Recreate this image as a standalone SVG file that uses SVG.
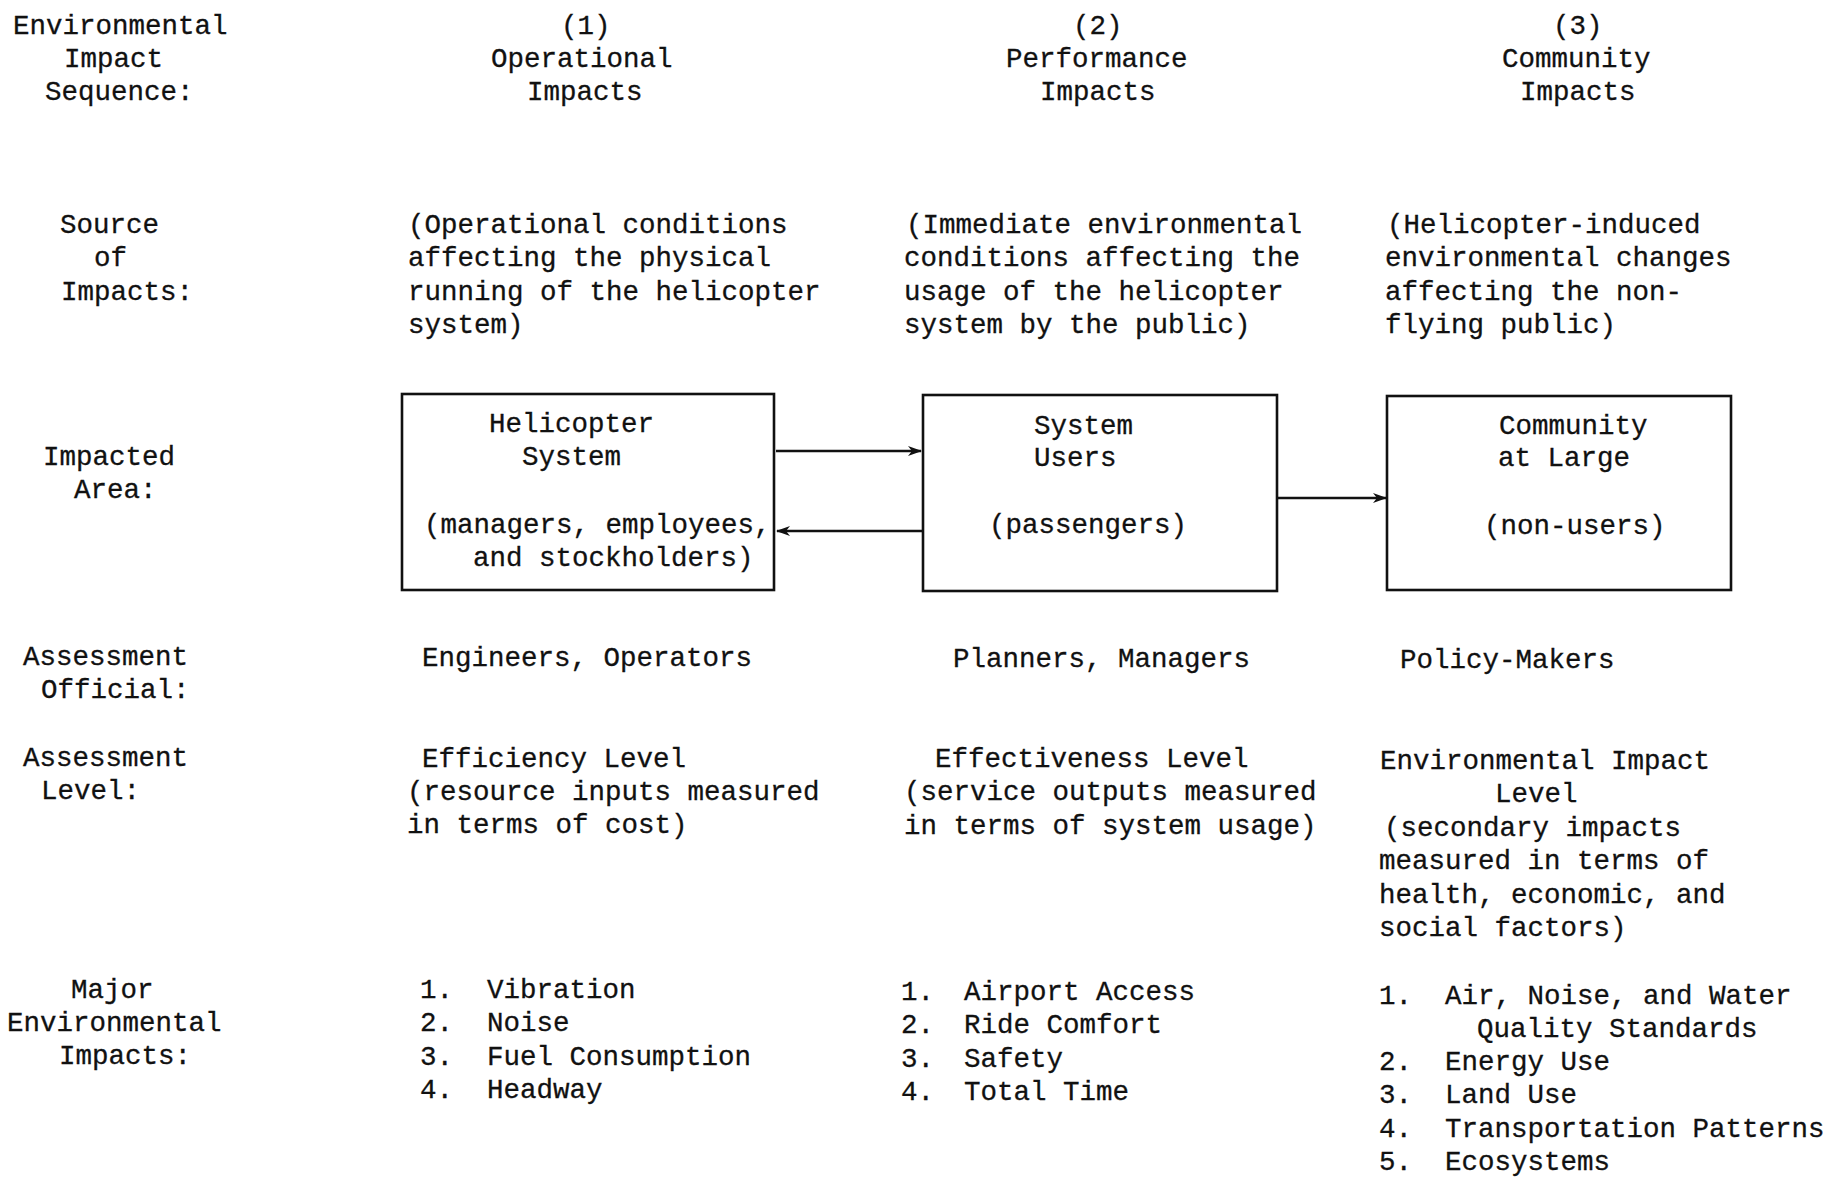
<svg xmlns="http://www.w3.org/2000/svg" width="1839" height="1180" viewBox="0 0 1839 1180">
<style>
text{font-family:"Liberation Mono","Courier New",monospace;font-size:27.5px;fill:#111;stroke:#111;stroke-width:0.3px}
.box{fill:none;stroke:#111;stroke-width:2.6}
.conn{fill:none;stroke:#111;stroke-width:2.6}
</style>
<defs>
<marker id="arr" viewBox="0 0 14 10" refX="13" refY="5" markerWidth="14" markerHeight="10" markerUnits="userSpaceOnUse" orient="auto">
<path d="M0,0 L14,5 L0,10 L4,5 Z" fill="#111"/>
</marker>
</defs>
<rect width="1839" height="1180" fill="#fff"/>

<g id="row-labels">
<text x="13" y="34">Environmental</text>
<text x="64" y="67">Impact</text>
<text x="45" y="100">Sequence:</text>
<text x="60" y="233">Source</text>
<text x="94" y="266">of</text>
<text x="61" y="300">Impacts:</text>
<text x="43" y="465">Impacted</text>
<text x="74" y="498">Area:</text>
<text x="23" y="665">Assessment</text>
<text x="41" y="698">Official:</text>
<text x="23" y="766">Assessment</text>
<text x="41" y="799">Level:</text>
<text x="71" y="998">Major</text>
<text x="7" y="1031">Environmental</text>
<text x="59" y="1064">Impacts:</text>
</g>

<g id="col1-text">
<text x="561" y="34">(1)</text>
<text x="491" y="67">Operational</text>
<text x="527" y="100">Impacts</text>
<text x="408" y="233">(Operational conditions</text>
<text x="408" y="266">affecting the physical</text>
<text x="408" y="300">running of the helicopter</text>
<text x="408" y="333">system)</text>
<text x="422" y="666">Engineers, Operators</text>
<text x="422" y="767">Efficiency Level</text>
<text x="407" y="800">(resource inputs measured</text>
<text x="407" y="833">in terms of cost)</text>
<text x="420" y="998">1.</text><text x="487" y="998">Vibration</text>
<text x="420" y="1031">2.</text><text x="487" y="1031">Noise</text>
<text x="420" y="1065">3.</text><text x="487" y="1065">Fuel Consumption</text>
<text x="420" y="1098">4.</text><text x="487" y="1098">Headway</text>
</g>

<g id="col2-text">
<text x="1073" y="34">(2)</text>
<text x="1006" y="67">Performance</text>
<text x="1040" y="100">Impacts</text>
<text x="906" y="233">(Immediate environmental</text>
<text x="904" y="266">conditions affecting the</text>
<text x="904" y="300">usage of the helicopter</text>
<text x="904" y="333">system by the public)</text>
<text x="953" y="667">Planners, Managers</text>
<text x="935" y="767">Effectiveness Level</text>
<text x="904" y="800">(service outputs measured</text>
<text x="904" y="834">in terms of system usage)</text>
<text x="901" y="1000">1.</text><text x="964" y="1000">Airport Access</text>
<text x="901" y="1033">2.</text><text x="964" y="1033">Ride Comfort</text>
<text x="901" y="1067">3.</text><text x="964" y="1067">Safety</text>
<text x="901" y="1100">4.</text><text x="964" y="1100">Total Time</text>
</g>

<g id="col3-text">
<text x="1553" y="34">(3)</text>
<text x="1502" y="67">Community</text>
<text x="1520" y="100">Impacts</text>
<text x="1387" y="233">(Helicopter-induced</text>
<text x="1385" y="266">environmental changes</text>
<text x="1385" y="300">affecting the non-</text>
<text x="1385" y="333">flying public)</text>
<text x="1400" y="668">Policy-Makers</text>
<text x="1380" y="769">Environmental Impact</text>
<text x="1495" y="802">Level</text>
<text x="1384" y="836">(secondary impacts</text>
<text x="1379" y="869">measured in terms of</text>
<text x="1379" y="903">health, economic, and</text>
<text x="1379" y="936">social factors)</text>
<text x="1379" y="1004">1.</text><text x="1445" y="1004">Air, Noise, and Water</text>
<text x="1477" y="1037">Quality Standards</text>
<text x="1379" y="1070">2.</text><text x="1445" y="1070">Energy Use</text>
<text x="1379" y="1103">3.</text><text x="1445" y="1103">Land Use</text>
<text x="1379" y="1137">4.</text><text x="1445" y="1137">Transportation Patterns</text>
<text x="1379" y="1170">5.</text><text x="1445" y="1170">Ecosystems</text>
</g>

<g id="node-helicopter-system">
<rect class="box" x="402" y="394" width="372" height="196"/>
<text x="489" y="432">Helicopter</text>
<text x="522" y="465">System</text>
<text x="424" y="533">(managers, employees,</text>
<text x="473" y="566">and stockholders)</text>
</g>

<g id="node-system-users">
<rect class="box" x="923" y="395" width="354" height="196"/>
<text x="1034" y="434">System</text>
<text x="1034" y="466">Users</text>
<text x="989" y="533">(passengers)</text>
</g>

<g id="node-community">
<rect class="box" x="1387" y="396" width="344" height="194"/>
<text x="1499" y="434">Community</text>
<text x="1498" y="466">at Large</text>
<text x="1484" y="534">(non-users)</text>
</g>

<g id="connectors">
<line class="conn" x1="776" y1="451" x2="921" y2="451" marker-end="url(#arr)"/>
<line class="conn" x1="923" y1="531" x2="777" y2="531" marker-end="url(#arr)"/>
<line class="conn" x1="1277" y1="498" x2="1386" y2="498" marker-end="url(#arr)"/>
</g>
</svg>
